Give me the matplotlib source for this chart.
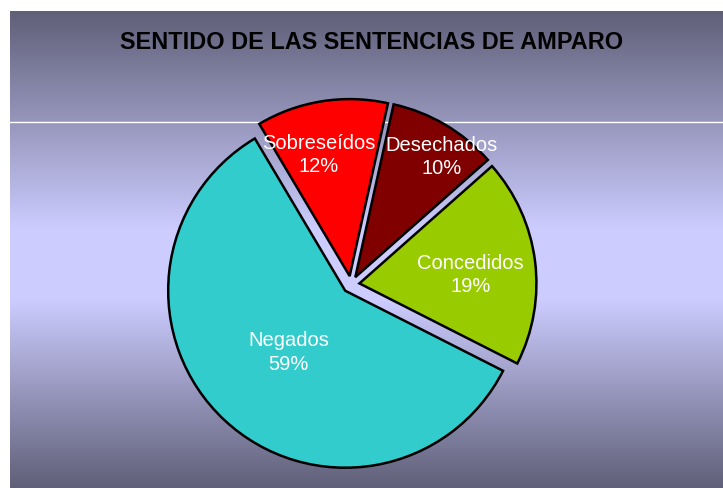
import matplotlib
matplotlib.use("Agg")
import matplotlib.pyplot as plt
import numpy as np

# data
categories = ["Desechados", "Concedidos", "Negados", "Sobreseídos"]
values = [10, 19, 59, 12]
colors = ["#800000", "#99CC00", "#33CCCC", "#FF0000"]

# label placement (fraction of radius, angle offset in degrees)
label_r = [0.84, 0.63, 0.47, 0.71]
label_dth = [-5, -2.5, 0, 5]

W, H = 723, 489
fig = plt.figure(figsize=(W / 100, H / 100), dpi=100)
fig.patch.set_facecolor("white")
ax = fig.add_axes([0, 0, 1, 1])
ax.set_xlim(0, W)
ax.set_ylim(0, H)
ax.axis("off")

# background gradient (pixel rows from top)
rows = np.arange(12, H)
dark = np.array([95, 95, 120]) / 255
light = np.array([204, 204, 255]) / 255
t = np.interp(rows, [12, 230, 300, H], [0, 1, 1, 0])
grad = dark[None, :] + (light - dark)[None, :] * t[:, None]
grad = np.repeat(grad[:, None, :], 2, axis=1)
ax.imshow(grad, extent=(10, W, 0, H - 12), aspect="auto", zorder=0)

# thin white line
ax.plot([10, W], [H - 123, H - 123], color="white", lw=1, zorder=1)

ax.text(372, H - 43, "SENTIDO DE LAS SENTENCIAS DE AMPARO", ha="center", va="center",
        fontsize=16.9, fontweight="bold", family="Liberation Sans", color="black", zorder=3)

cx, cy, R = 351, H - 285.5, 177
wedges, _ = ax.pie(values, colors=colors, explode=[8.5] * len(values),
                   startangle=77.5, counterclock=False, center=(cx, cy), radius=R,
                   frame=True, wedgeprops=dict(edgecolor="black", linewidth=1.8))
for w in wedges:
    w.set_zorder(2)
ax.set_xlim(0, W)
ax.set_ylim(0, H)
ax.set_aspect("equal")
ax.axis("off")

total = sum(values)
for w, name, v, lr, dth in zip(wedges, categories, values, label_r, label_dth):
    mid = np.deg2rad((w.theta1 + w.theta2) / 2 + dth)
    x0, y0 = w.center
    x = x0 + lr * R * np.cos(mid)
    y = y0 + lr * R * np.sin(mid)
    ax.text(x, y, "%s\n%d%%" % (name, round(v * 100 / total)), ha="center", va="center",
            color="white", fontsize=14.5, family="Liberation Sans", linespacing=1.3, zorder=4)

fig.savefig("out.png", dpi=100)
